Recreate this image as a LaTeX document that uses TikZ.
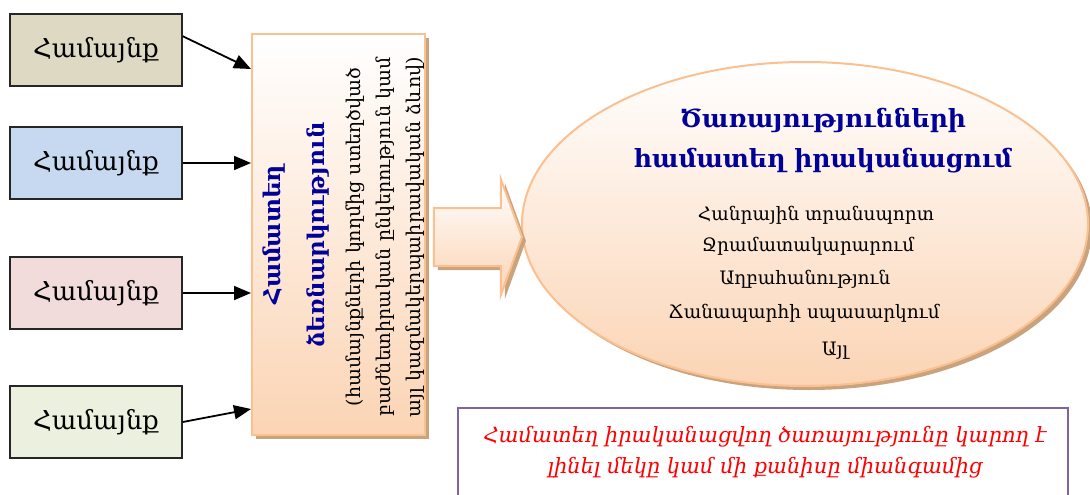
\documentclass[tikz,border=0pt]{standalone}
\usepackage{fontspec}
\setmainfont{DejaVu Serif}
\usetikzlibrary{arrows.meta,calc,shapes.geometric,shapes.arrows,shadows}

\definecolor{khaki}{HTML}{DDD9C3}
\definecolor{skyblue}{HTML}{C6D9F1}
\definecolor{rosepink}{HTML}{F2DCDB}
\definecolor{palegreen}{HTML}{EBF1DE}
\definecolor{peachline}{HTML}{FAC08F}
\definecolor{peachfill}{HTML}{FBD4B4}
\definecolor{tanshadow}{HTML}{C9A27E}
\definecolor{navy}{RGB}{0,0,153}
\definecolor{plum}{HTML}{8064A2}

\tikzset{
  community/.style={draw=black!85, line width=1.6pt, minimum width=172pt,
    minimum height=72pt, inner sep=0pt, font=\fontsize{26}{30}\selectfont},
  feed/.style={-{Triangle[length=17pt,width=14pt]}, line width=1.8pt},
  peach/.style={draw=peachline, line width=2pt, top color=white,
    bottom color=peachfill,
    drop shadow={shadow xshift=4pt, shadow yshift=-4pt, fill=tanshadow, opacity=1}},
  service/.style={font=\fontsize{18.5}{22}\selectfont},
}

\begin{document}
\begin{tikzpicture}[x=1pt,y=-1pt]
  \useasboundingbox (0,0) rectangle (1090,495);

  % Define nodes for the communities
  \node[community, fill=khaki] (hA) at (96,50) {Համայնք};
  \node[community, fill=skyblue] (hB) at (96,163) {Համայնք};
  \node[community, fill=rosepink] (hC) at (96,293) {Համայնք};
  \node[community, fill=palegreen] (hD) at (96,422) {Համայնք};

  % Joint enterprise box
  \node[peach, minimum width=173pt, minimum height=401pt, inner sep=0pt] (jv) at (338.5,234.5) {};
  \node[rotate=90, align=center, text=navy, font=\bfseries\fontsize{23}{44}\selectfont] (jvTitle) at (296,235)
    {Համատեղ\\ձեռնարկություն};
  \node[rotate=90, align=center, font=\fontsize{19}{30}\selectfont] (jvNote) at (385,237)
    {(համայնքների կողմից ստեղծված\\բաժնետիրական ընկերություն կամ\\այլ կազմակերպաիրավական ձևով)};

  % Services ellipse
  \node[ellipse, peach, minimum width=566pt, minimum height=324pt, inner sep=0pt] (svc) at (805,224) {};
  \node[align=center, text=navy, font=\bfseries\fontsize{25}{40}\selectfont] (svcTitle) at (823,141)
    {Ծառայությունների\\համատեղ իրականացում};
  \node[service] (s1) at (816,215) {Հանրային տրանսպորտ};
  \node[service] (s2) at (808,246) {Ջրամատակարարում};
  \node[service] (s3) at (805,279) {Աղբահանություն};
  \node[service] (s4) at (804,313) {Ճանապարհի սպասարկում};
  \node[service] (s5) at (835,351) {Այլ};

  % Block arrow
  \node[single arrow, peach, anchor=tip, inner xsep=0pt, inner ysep=28pt, minimum height=88pt,
    single arrow head extend=29pt, single arrow tip angle=140] (push) at (523,237) {};

  % Remark box
  \node[draw=plum, line width=2pt, minimum width=610pt, minimum height=130pt, anchor=north] (remBox) at (763,407) {};
  \node[align=center, text=red, font=\itshape\fontsize{21}{31}\selectfont] (remText) at (765,452)
    {Համատեղ իրականացվող ծառայությունը կարող է\\լինել մեկը կամ մի քանիսը միանգամից};

  % Draw arrows
  \draw[feed] (hA.9) -- ($(jv.north west)+(0,36)$);
  \draw[feed] (hB.east) -- (hB.east -| jv.west);
  \draw[feed] (hC.east) -- (hC.east -| jv.west);
  \draw[feed] (hD.east) -- ($(jv.south west)+(0,-27)$);
\end{tikzpicture}
\end{document}
